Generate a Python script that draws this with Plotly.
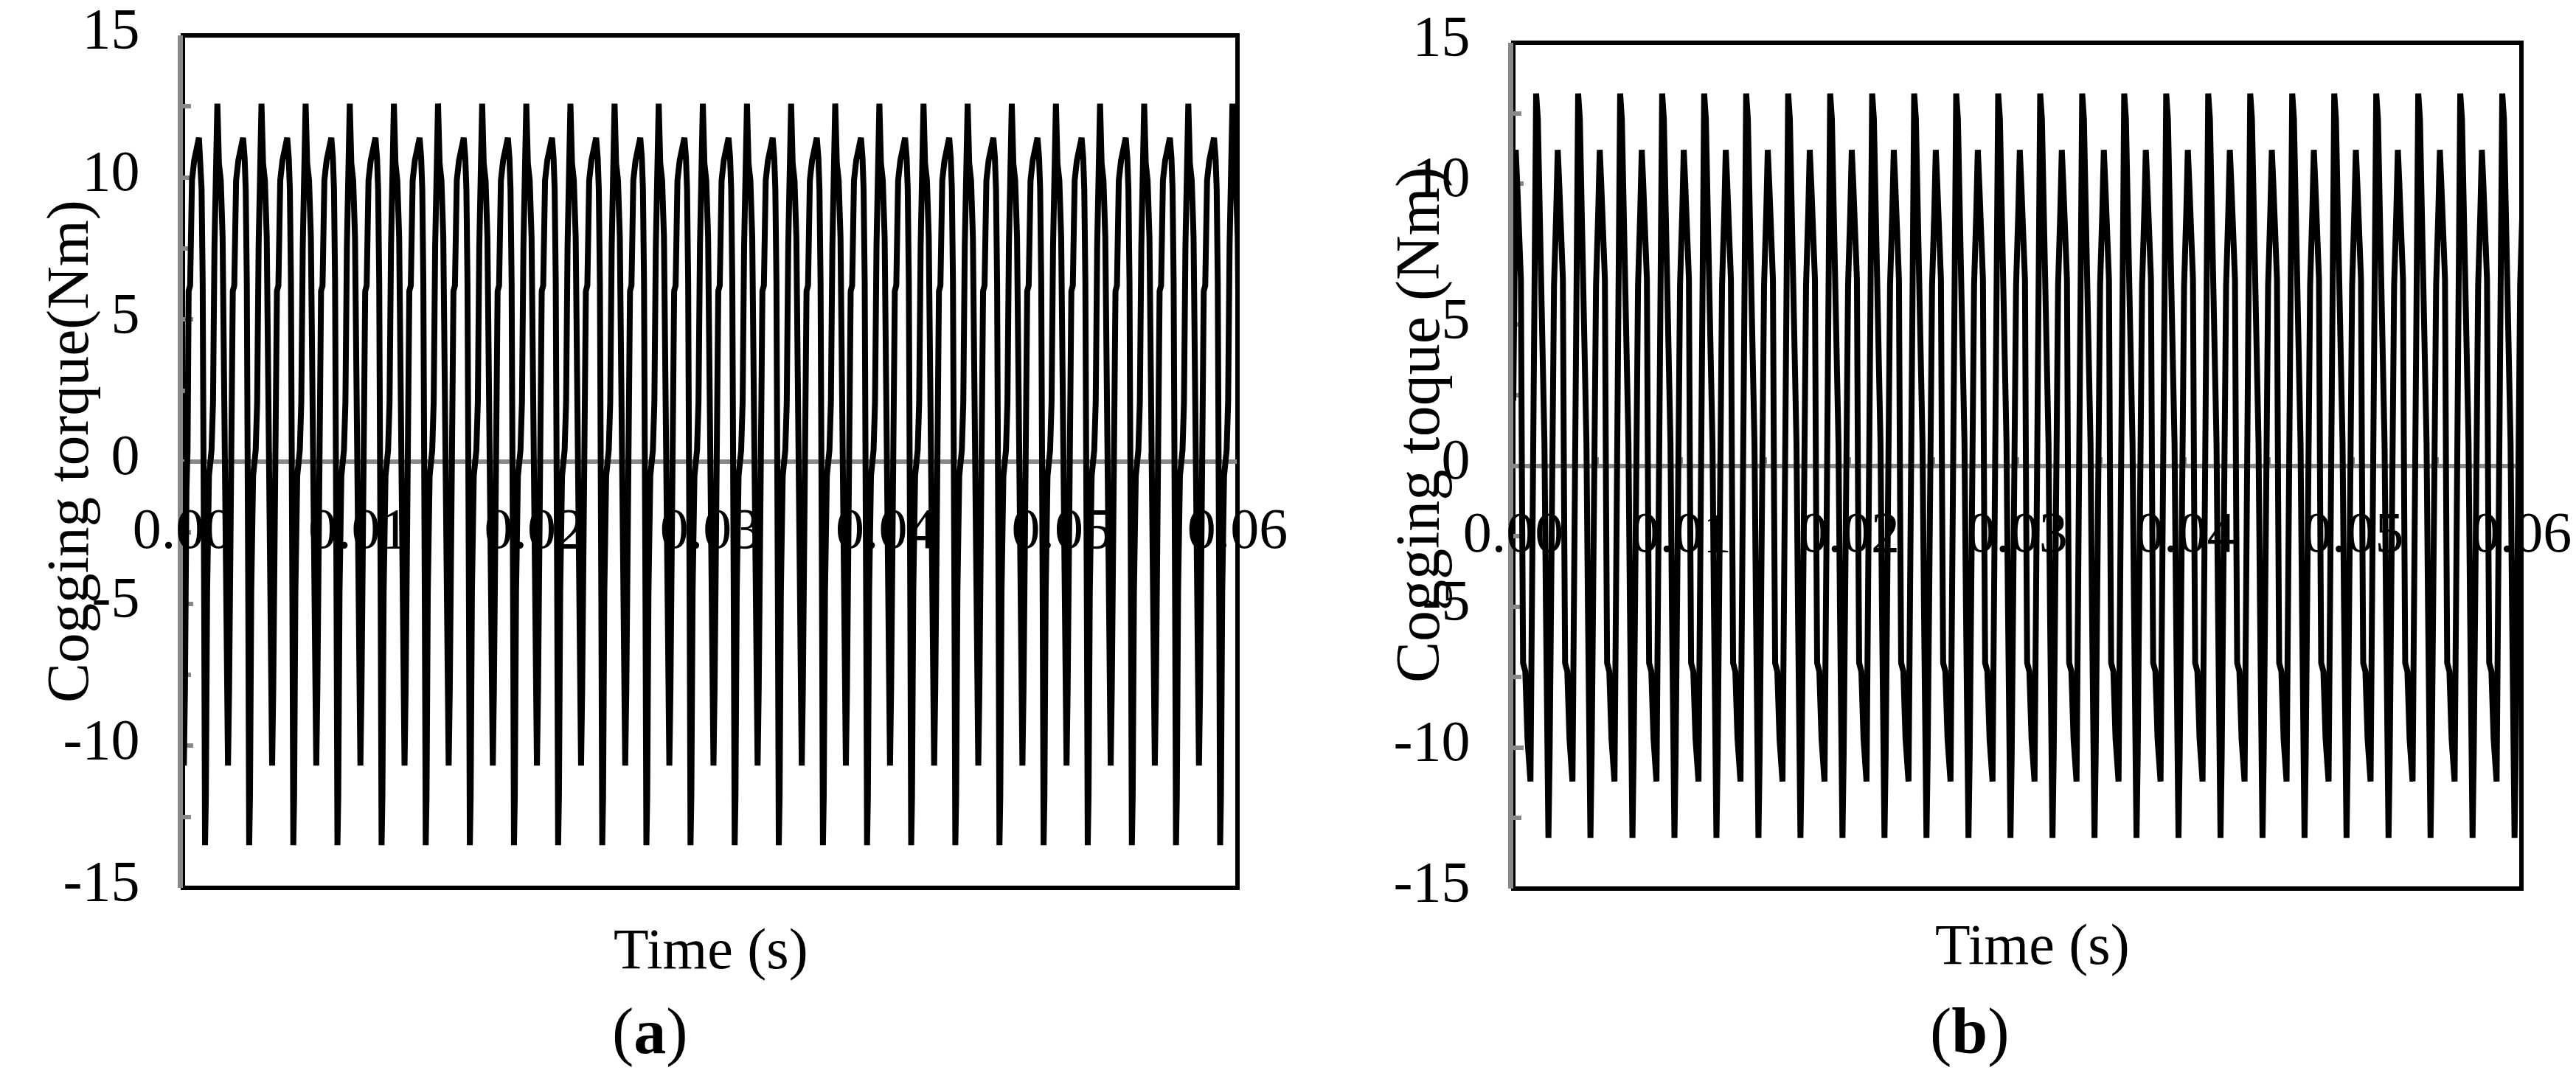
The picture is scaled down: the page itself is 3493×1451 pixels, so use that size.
import plotly.graph_objects as go

W, H = 3493, 1451

# ---------------- data ----------------
# Panel (a): one cogging-torque period, offsets in ms from the shallow trough
a_offsets_ms = [0.000, 0.063, 0.147, 0.210, 0.273, 0.357, 0.462, 0.588, 0.857,
                0.945, 1.008, 1.071, 1.113, 1.155, 1.205, 1.251, 1.323, 1.428,
                1.575, 1.659, 1.743, 1.827, 1.906, 1.995, 2.100, 2.205, 2.310, 2.415]
a_values = [-10.7, -8.0, -1.0, 0.4, 6.0, 6.2, 9.9, 10.6, 11.4,
            10.7, 9.6, 6.3, 3.3, -5.0, -13.5, -11.8, -4.6, -0.5,
            0.4, 2.1, 7.6, 10.5, 12.6, 10.5, 9.9, 7.9, 2.0, -6.0]
a_period_ms = 2.511
a_first_ms = 0.055
a_start_value = 0.0
a_cycles = 24

# Panel (b): one period, offsets in ms from the medium positive peak
b_offsets_ms = [0.000, 0.088, 0.197, 0.307, 0.373, 0.438, 0.570, 0.701, 0.877,
                0.964, 1.052, 1.140, 1.214, 1.315, 1.403, 1.512, 1.622, 1.709,
                1.797, 1.885, 1.946, 2.016, 2.178, 2.279, 2.411]
b_values = [11.2, 10.0, 7.9, 6.6, -1.0, -7.0, -7.3, -9.7, -11.2,
            -6.0, 2.0, 9.5, 13.2, 12.3, 9.4, 5.0, 3.8, 0.8,
            -5.0, -11.0, -13.2, -10.3, 0.8, 6.4, 9.0]
b_period_ms = 2.5
b_first_ms = 0.145
b_start_value = 2.3
b_cycles = 24

x_ticks = [0.0, 0.01, 0.02, 0.03, 0.04, 0.05, 0.06]
x_tick_labels = ["0.00", "0.01", "0.02", "0.03", "0.04", "0.05", "0.06"]
y_ticks = [-15, -10, -5, 0, 5, 10, 15]
y_tick_labels = ["-15", "-10", "-5", "0", "5", "10", "15"]


def build(offsets, values, period, first, start, cycles):
    t = [0.0]
    v = [start]
    for k in range(cycles):
        for off, val in zip(offsets, values):
            t.append((first + k * period + off) / 1000.0)
            v.append(val)
    return t, v


ta, va = build(a_offsets_ms, a_values, a_period_ms, a_first_ms, a_start_value, a_cycles)
tb, vb = build(b_offsets_ms, b_values, b_period_ms, b_first_ms, b_start_value, b_cycles)

# ---------------- layout geometry ----------------
def px_x(p):
    return p / W


def px_y(p):
    return 1 - p / H


GREY = "#888888"
FONT = "Liberation Serif"

panels = [
    dict(x0=240, x1=1670, ytop=40, ybot=1196),
    dict(x0=2044, x1=3411, ytop=50, ybot=1197),
]

fig = go.Figure()
fig.add_trace(go.Scatter(x=ta, y=va, mode="lines", line=dict(color="black", width=8),
                         xaxis="x", yaxis="y", showlegend=False, hoverinfo="skip"))
fig.add_trace(go.Scatter(x=tb, y=vb, mode="lines", line=dict(color="black", width=8),
                         xaxis="x2", yaxis="y2", showlegend=False, hoverinfo="skip"))

layout = dict(width=W, height=H, margin=dict(l=0, r=0, t=0, b=0, pad=0), autosize=False,
              template="none",
              paper_bgcolor="white", plot_bgcolor="white", showlegend=False)

shapes = []
for i, p in enumerate(panels):
    sx = "" if i == 0 else "2"
    xd = [px_x(p["x0"]), px_x(p["x1"])]
    yd = [px_y(p["ybot"]), px_y(p["ytop"])]
    layout["xaxis" + sx] = dict(
        domain=xd, range=[0, 0.06], tickvals=x_ticks, ticktext=x_tick_labels,
        anchor="free", position=(yd[0] + yd[1]) / 2, automargin=False,
        showline=True, linecolor=GREY, linewidth=6,
        ticks="inside", ticklen=9, tickwidth=4, tickcolor=GREY,
        minor=dict(dtick=0.005, tick0=0, ticks="inside", ticklen=9, tickwidth=4, tickcolor=GREY),
        showgrid=False, zeroline=False, layer="below traces", ticklabeloverflow="allow",
        tickfont=dict(family=FONT, size=78, color="black"), ticklabelstandoff=20,
    )
    layout["yaxis" + sx] = dict(
        domain=yd, range=[-15, 15], tickvals=y_ticks, ticktext=y_tick_labels,
        anchor="x" + sx, automargin=False,
        showline=True, linecolor=GREY, linewidth=7,
        ticks="inside", ticklen=14, tickwidth=6, tickcolor=GREY,
        minor=dict(dtick=2.5, tick0=0, ticks="inside", ticklen=11, tickwidth=6, tickcolor=GREY),
        showgrid=False, zeroline=False, layer="below traces", ticklabeloverflow="allow",
        ticklabelshift=-10,
        tickfont=dict(family=FONT, size=78, color="black"), ticklabelstandoff=36,
    )
    shapes.append(dict(type="rect", xref="x" + sx + " domain", yref="y" + sx + " domain",
                       x0=0, x1=1, y0=0, y1=1, line=dict(color="black", width=6),
                       fillcolor="rgba(0,0,0,0)", layer="below"))

layout["shapes"] = shapes

annotations = [
    dict(text="Cogging torque(Nm)", x=px_x(84), y=px_y(604), textangle=-90, size=81),
    dict(text="Cogging toque (Nm)", x=px_x(1915), y=px_y(568), textangle=-90, size=84),
    dict(text="Time (s)", x=px_x(956), y=px_y(1278)),
    dict(text="Time (s)", x=px_x(2748), y=px_y(1272)),
    dict(text="(<b>a</b>)", x=px_x(873), y=px_y(1390), size=88),
    dict(text="(<b>b</b>)", x=px_x(2663), y=px_y(1390), size=88),
]
ann_list = []
for a in annotations:
    ann_list.append(dict(text=a["text"], x=a["x"], y=a["y"], xref="paper", yref="paper",
                         xanchor="center", yanchor="middle", showarrow=False,
                         textangle=a.get("textangle", 0),
                         font=dict(family=FONT, size=a.get("size", 78), color="black")))
layout["annotations"] = ann_list

fig.update_layout(**layout)
fig.write_html("out.html")
